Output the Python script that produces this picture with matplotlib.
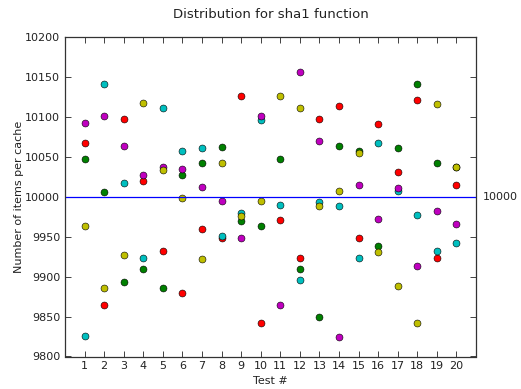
import matplotlib
matplotlib.use('Agg')
import matplotlib.pyplot as plt
import matplotlib.transforms as mtransforms
import numpy as np

tests = np.arange(1, 21)

# items per cache for each of the 5 caches, one value per test run
cache_red = [10068, 9865, 10097, 10020, 9932, 9880, 9960, 9948, 10126, 9842,
             9971, 9924, 10097, 10114, 9948, 10091, 10031, 10122, 9923, 10015]
cache_green = [10048, 10006, 9893, 9910, 9886, 10028, 10043, 10062, 9970, 9964,
               10047, 9910, 9849, 10064, 10057, 9939, 10061, 10142, 10043, 10038]
cache_cyan = [9826, 10142, 10017, 9923, 10111, 10057, 10061, 9951, 9980, 10096,
              9990, 9896, 9994, 9989, 9924, 10067, 10007, 9977, 9932, 9942]
cache_magenta = [10093, 10101, 10064, 10028, 10037, 10035, 10012, 9995, 9949, 10101,
                 9865, 10157, 10070, 9825, 10015, 9972, 10011, 9914, 9982, 9966]
cache_yellow = [9964, 9886, 9927, 10118, 10034, 9999, 9922, 10042, 9976, 9995,
                10126, 10111, 9989, 10007, 10055, 9931, 9888, 9842, 10117, 10038]

expected = 10000

series = [(cache_red, 'r'), (cache_green, 'g'), (cache_cyan, 'c'),
          (cache_magenta, 'm'), (cache_yellow, 'y')]

fig = plt.figure(figsize=(5.21, 3.89), dpi=100)
ax = fig.add_axes([65 / 521, 1 - 356.5 / 389, (476 - 65) / 521, (356.5 - 37.3) / 389])

for values, col in series:
    ax.plot(tests, values, 'o', color=col, markersize=5,
            markeredgecolor='black', markeredgewidth=0.4, linestyle='none')

ax.axhline(expected, color='b', linewidth=0.9)
trans = mtransforms.blended_transform_factory(ax.transAxes, ax.transData)
ax.text(1.016, expected, str(expected), transform=trans, va='center', ha='left',
        fontsize=8, color='#222222')

ax.set_xlim(0, 21)
ax.set_ylim(9800, 10200)
ax.set_xticks(tests)
ax.set_yticks(np.arange(9800, 10201, 50))
ax.tick_params(direction='in', length=4, width=0.6, top=True, right=True,
               labelsize=8, colors='#222222')
for sp in ax.spines.values():
    sp.set_linewidth(0.9)
    sp.set_color('#333333')

ax.set_title('Distribution for sha1 function', fontsize=9.5, pad=14, color='#222222')
ax.set_xlabel('Test #', fontsize=8, color='#222222', labelpad=3)
ax.set_ylabel('Number of items per cache', fontsize=8, color='#222222', labelpad=1)

fig.savefig('out.png', dpi=100)
